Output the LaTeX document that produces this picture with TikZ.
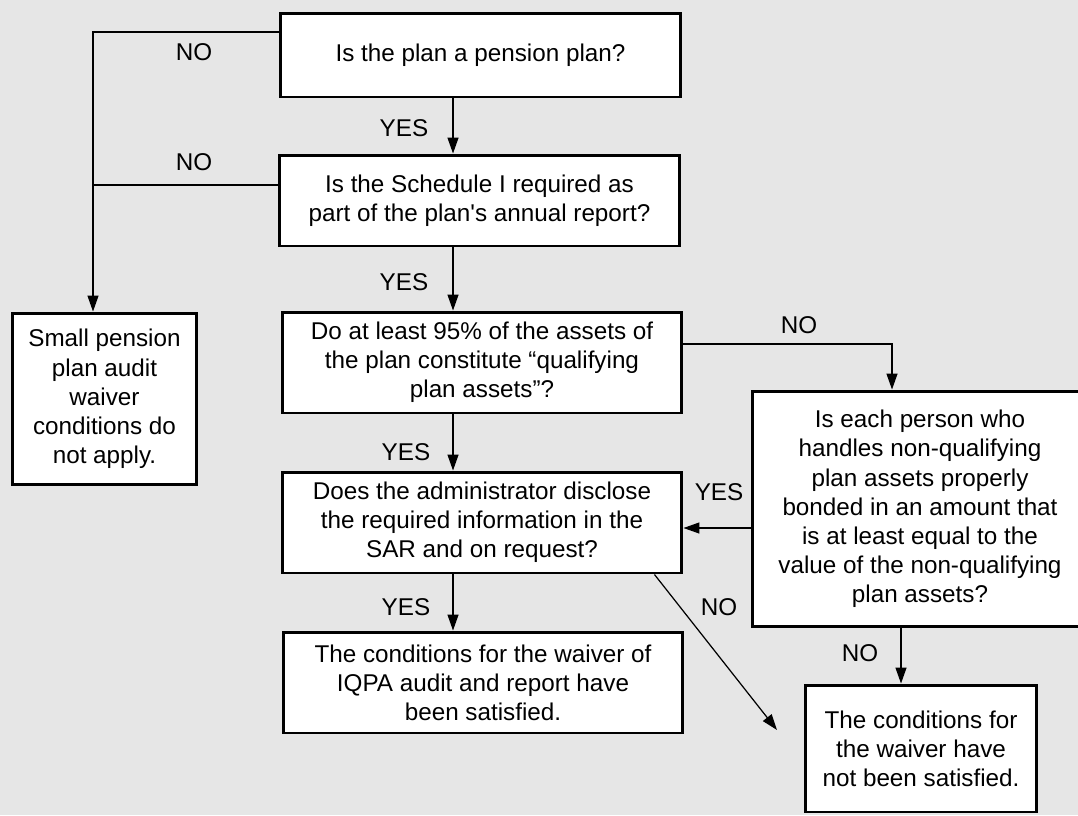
\documentclass[tikz,border=0pt]{standalone}
\usepackage{fontspec}
\setmainfont{Liberation Sans}
\usetikzlibrary{positioning,arrows.meta,calc}
\definecolor{paper}{RGB}{230,230,230}

\begin{document}
\begin{tikzpicture}[
  x=0.02cm, y=-0.02cm,
  font=\fontsize{13.8}{16.6}\selectfont,
  box/.style={draw, line width=1.7pt, fill=white, align=center, inner sep=2pt},
  arr/.style={-{Triangle[length=9pt,width=6.2pt]}, line width=0.7pt},
  wire/.style={line width=0.7pt},
  tag/.style={inner sep=0pt}
]
\useasboundingbox (0,0) rectangle (1078,815);
\fill[paper] (0,0) rectangle (1078,815);
\clip (0,0) rectangle (1078,815);

\node[box, minimum width=8.02cm, minimum height=1.68cm] (pension) at (480.5,55) {Is the plan a pension plan?};
\node[box, minimum width=8.02cm, minimum height=1.82cm] (sched) at (479.5,200.5) {Is the Schedule I required as\\part of the plan\textquotesingle s annual report?};
\node[box, minimum width=8cm, minimum height=2.02cm] (assets) at (482,362.5) {Do at least 95\% of the assets of\\the plan constitute “qualifying\\plan assets”?};
\node[box, minimum width=8cm, minimum height=2.02cm] (sar) at (482,522.5) {Does the administrator disclose\\the required information in the\\SAR and on request?};
\node[box, minimum width=8cm, minimum height=2.02cm] (done) at (483,682.5) {The conditions for the waiver of\\IQPA audit and report have\\been satisfied.};
\node[box, minimum width=3.7cm, minimum height=3.44cm] (small) at (104.5,399) {Small pension\\plan audit\\waiver\\conditions do\\not apply.};
\node[box, minimum width=6.72cm, minimum height=4.72cm] (bond) at (920,509) {Is each person who\\handles non-qualifying\\plan assets properly\\bonded in an amount that\\is at least equal to the\\value of the non-qualifying\\plan assets?};
\node[box, minimum width=4.64cm, minimum height=2.54cm] (fail) at (921,748.5) {The conditions for\\the waiver have\\not been satisfied.};

% turning points
\coordinate (bus) at (93,32);
\coordinate (bus2) at (93,185);
\coordinate (mid) at (453,0);
\coordinate (knee) at (892,344);
\coordinate (back) at (700,528);
\coordinate (drop) at (901,0);
\coordinate (open) at (777,730);

\draw[arr] (pension.west |- bus) -- (bus) -- (bus |- small.north);
\draw[wire] (sched.west |- bus2) -- (bus2);
\draw[arr] (mid |- pension.south) -- (mid |- sched.north);
\draw[arr] (mid |- sched.south) -- (mid |- assets.north);
\draw[arr] (mid |- assets.south) -- (mid |- sar.north);
\draw[arr] (mid |- sar.south) -- (mid |- done.north);
\draw[arr] (assets.east |- knee) -- (knee) -- (knee |- bond.north);
\draw[arr] (bond.west |- back) -- (sar.east |- back);
\draw[arr] ($(sar.south east)+(-29,0)$) -- (open);
\draw[arr] (drop |- bond.south) -- (drop |- fail.north);

\node[tag] (no1) at (194,52) {NO};
\node[tag] (no2) at (194,162) {NO};
\node[tag] (yes1) at (404,128) {YES};
\node[tag] (yes2) at (404,282) {YES};
\node[tag] (yes3) at (406,452) {YES};
\node[tag] (yes4) at (406,607) {YES};
\node[tag] (no3) at (799,325) {NO};
\node[tag] (yes5) at (719,492) {YES};
\node[tag] (no4) at (719,607) {NO};
\node[tag] (no5) at (860,653) {NO};
\end{tikzpicture}
\end{document}
